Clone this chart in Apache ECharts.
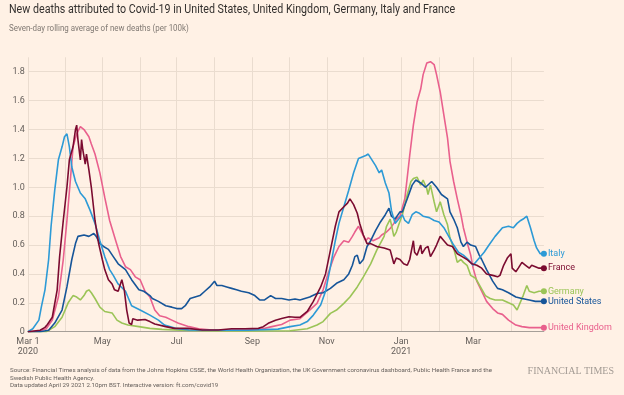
<!DOCTYPE html>
<html>
<head>
<meta charset="utf-8">
<script src="https://cdn.jsdelivr.net/npm/echarts@6/dist/echarts.min.js"></script>
<style>
  html, body { margin: 0; padding: 0; background: #fff1e5; }
  #chart { width: 624px; height: 395px; }
</style>
</head>
<body>
<div id="chart"></div>
<script>
// ---- Data (x = days since 2020-03-01, y = 7-day avg deaths per 100k) ----
const startDay = '2020-03-01';
const dayCount = 424; // 2020-03-01 .. 2021-04-28

const xTickLabels = {
  '2020-03-01': 'Mar 1\n2020', '2020-05-01': 'May', '2020-07-01': 'Jul',
  '2020-09-01': 'Sep', '2020-11-01': 'Nov', '2021-01-01': 'Jan\n2021', '2021-03-01': 'Mar'
};
const yTicks = [0, 0.2, 0.4, 0.6, 0.8, 1.0, 1.2, 1.4, 1.6, 1.8];

const italyDays = [0,4,9,11,14,17,19,22,25,28,30,32,34,36,39,43,47,51,55,59,63,67,70,74,80,85,92,100,107,112,121,132,150,180,205,215,223,229,234,240,244,248,252,255,259,263,267,271,274,277,279,282,285,288,290,293,296,298,301,304,307,309,312,315,318,321,324,329,333,337,341,345,349,353,357,361,365,370,374,378,383,389,394,398,401,404,406,409,412,415,417,420,423];
const italyVals = [0,0.02,0.08,0.17,0.29,0.50,0.73,0.98,1.19,1.28,1.35,1.37,1.28,1.14,1.04,0.96,0.92,0.84,0.75,0.63,0.52,0.43,0.39,0.33,0.28,0.18,0.15,0.115,0.08,0.046,0.023,0.012,0.01,0.01,0.018,0.035,0.046,0.07,0.115,0.185,0.28,0.45,0.63,0.75,0.865,0.98,1.10,1.20,1.21,1.22,1.23,1.19,1.15,1.10,1.12,1.03,0.96,0.84,0.75,0.78,0.81,0.77,0.75,0.81,0.83,0.82,0.80,0.79,0.77,0.76,0.72,0.66,0.60,0.55,0.53,0.50,0.46,0.51,0.55,0.60,0.66,0.72,0.73,0.72,0.75,0.77,0.78,0.80,0.72,0.63,0.58,0.54,0.54];

const franceDays = [0,10,14,16,20,24,26,29,32,34,37,39,40,41,43,44,45,47,48,50,52,55,58,61,63,66,69,71,74,77,79,81,83,85,86,90,96,100,104,113,120,131,143,156,167,178,189,193,197,203,208,214,219,223,229,234,240,244,248,252,255,259,262,264,267,270,272,275,278,281,286,292,297,300,302,305,308,311,313,316,317,319,322,323,326,328,330,333,335,338,341,344,348,352,356,360,364,368,372,376,381,385,387,390,393,396,397,400,402,405,408,411,413,416,419,423];
const franceVals = [0,0.01,0.03,0.05,0.10,0.29,0.52,0.77,1.00,1.19,1.28,1.40,1.43,1.33,1.19,1.33,1.26,1.16,1.23,1.12,1.00,0.77,0.61,0.50,0.43,0.36,0.33,0.29,0.28,0.36,0.29,0.15,0.06,0.05,0.09,0.08,0.085,0.07,0.053,0.035,0.023,0.023,0.012,0.012,0.02,0.02,0.023,0.035,0.058,0.08,0.092,0.104,0.10,0.10,0.14,0.21,0.31,0.40,0.565,0.73,0.83,0.865,0.89,0.92,0.88,0.82,0.75,0.67,0.61,0.61,0.59,0.58,0.565,0.47,0.51,0.50,0.47,0.46,0.50,0.63,0.55,0.53,0.60,0.54,0.58,0.59,0.52,0.565,0.60,0.66,0.63,0.60,0.59,0.54,0.52,0.50,0.47,0.46,0.44,0.40,0.39,0.38,0.39,0.46,0.51,0.54,0.44,0.415,0.44,0.48,0.46,0.44,0.46,0.45,0.44,0.44];

const germanyDays = [0,15,22,28,33,37,40,43,46,48,50,52,55,59,63,69,73,77,82,91,100,110,130,160,190,215,229,237,242,248,253,259,264,270,275,281,286,292,294,297,300,302,304,307,311,314,316,319,322,324,327,328,330,333,335,338,341,344,346,349,352,355,357,360,363,367,371,375,379,383,389,394,398,401,404,406,409,411,415,419,423];
const germanyVals = [0,0,0.035,0.10,0.20,0.25,0.24,0.22,0.25,0.28,0.29,0.27,0.23,0.17,0.14,0.13,0.08,0.06,0.046,0.035,0.023,0.016,0.008,0.005,0.005,0.007,0.02,0.046,0.07,0.127,0.15,0.196,0.24,0.31,0.38,0.47,0.565,0.66,0.73,0.78,0.66,0.69,0.74,0.81,0.95,1.04,1.06,1.07,1.015,1.05,0.99,0.95,1.015,0.90,0.83,0.90,0.81,0.74,0.65,0.58,0.48,0.50,0.48,0.46,0.39,0.37,0.31,0.25,0.23,0.22,0.22,0.20,0.185,0.15,0.21,0.25,0.32,0.28,0.27,0.28,0.28];

const usDays = [0,10,17,22,28,32,36,39,41,46,50,54,56,59,62,66,70,74,80,85,91,95,100,102,107,113,118,122,126,129,133,137,141,145,149,153,155,159,163,167,171,175,181,186,190,194,199,203,208,214,219,223,231,237,242,248,253,259,263,266,268,270,272,275,278,281,285,289,293,296,298,301,305,307,311,315,318,322,326,331,335,339,344,346,349,352,355,357,360,363,367,370,372,376,381,385,389,394,400,405,411,416,423];
const usVals = [0,0,0.01,0.06,0.15,0.31,0.50,0.61,0.66,0.67,0.66,0.68,0.66,0.61,0.59,0.57,0.52,0.47,0.43,0.36,0.29,0.28,0.25,0.23,0.21,0.18,0.17,0.16,0.16,0.18,0.23,0.24,0.25,0.28,0.31,0.35,0.32,0.32,0.31,0.30,0.29,0.28,0.27,0.25,0.22,0.22,0.25,0.23,0.23,0.22,0.226,0.22,0.24,0.265,0.27,0.30,0.335,0.36,0.40,0.46,0.52,0.53,0.47,0.50,0.59,0.63,0.70,0.76,0.81,0.855,0.80,0.78,0.83,0.83,0.92,1.015,1.05,1.03,1.00,1.04,1.00,0.95,0.92,0.83,0.78,0.72,0.62,0.59,0.62,0.60,0.59,0.53,0.50,0.43,0.35,0.30,0.29,0.27,0.24,0.23,0.22,0.21,0.21];

const ukDays = [0,10,15,20,25,29,32,35,37,40,43,46,50,52,55,59,63,67,72,76,80,84,88,92,96,100,104,108,113,118,123,132,140,151,178,190,200,208,215,223,231,237,242,246,251,255,259,263,266,268,271,274,277,279,283,288,290,294,297,300,302,305,309,313,316,319,322,324,327,330,333,335,338,341,344,346,349,352,355,357,360,363,365,368,372,376,381,385,389,394,400,405,411,416,423];
const ukVals = [0,0.005,0.02,0.08,0.24,0.50,0.77,1.07,1.28,1.37,1.42,1.40,1.35,1.30,1.23,1.10,0.93,0.77,0.63,0.52,0.45,0.43,0.38,0.36,0.28,0.24,0.15,0.11,0.10,0.08,0.06,0.035,0.02,0.012,0.012,0.015,0.035,0.05,0.08,0.09,0.15,0.196,0.29,0.40,0.52,0.59,0.63,0.62,0.66,0.69,0.73,0.68,0.63,0.65,0.63,0.65,0.67,0.69,0.715,0.75,0.78,0.80,0.92,1.22,1.43,1.59,1.68,1.78,1.86,1.87,1.85,1.78,1.66,1.50,1.34,1.18,1.04,0.92,0.81,0.72,0.62,0.53,0.44,0.35,0.28,0.21,0.16,0.13,0.12,0.08,0.046,0.035,0.028,0.028,0.028];

// ---- Build axis categories (one per day) ----
const categories = [];
const base = new Date(startDay + 'T00:00:00Z').getTime();
for (let i = 0; i < dayCount; i++) {
  categories.push(new Date(base + i * 86400000).toISOString().slice(0, 10));
}

function pairs(days, vals) {
  return days.map((d, i) => {
    const item = [categories[d], vals[i]];
    if (i === days.length - 1) {
      return { value: item, symbol: 'circle', symbolSize: 6 };
    }
    return item;
  });
}

const FONT = 'Roboto, "Noto Sans", sans-serif';

function lineSeries(name, color, days, vals, z) {
  return {
    name, type: 'line', z,
    data: pairs(days, vals),
    symbol: 'none', showSymbol: true, showAllSymbol: true,
    itemStyle: { color },
    lineStyle: { color, width: 1.6 },
    emphasis: { disabled: true },
    animation: false,
    endLabel: { show: true, formatter: '{a}', color, fontSize: 9, fontFamily: FONT, distance: 4 }
  };
}

const chart = echarts.init(document.getElementById('chart'), null, { renderer: 'canvas' });
chart.setOption({
  backgroundColor: '#fff1e5',
  animation: false,
  textStyle: { fontFamily: FONT },
  grid: { left: 27.9, right: 80.1, top: 57.3, bottom: 63.3, containLabel: false },
  xAxis: {
    type: 'category',
    data: categories,
    boundaryGap: false,
    axisLine: { show: true, lineStyle: { color: '#a69f98', width: 1 } },
    axisTick: { show: false },
    axisLabel: {
      interval: (idx, val) => xTickLabels.hasOwnProperty(val),
      formatter: (val) => xTickLabels[val] || '',
      color: '#66605c', fontSize: 9, lineHeight: 10, margin: 5, fontFamily: FONT
    },
    splitLine: {
      show: true,
      interval: (idx, val) => val.slice(8) === '01',
      lineStyle: { color: '#eadccf', width: 1 }
    }
  },
  yAxis: {
    type: 'value',
    min: 0, max: 1.9, interval: 0.2,
    axisLine: { show: false },
    axisTick: { show: false },
    axisLabel: {
      showMaxLabel: false,
      formatter: (v) => (yTicks.some(t => Math.abs(t - v) < 1e-9) ? (v === 0 ? '0' : v.toFixed(1)) : ''),
      color: '#66605c', fontSize: 9, margin: 3, fontFamily: FONT
    },
    splitLine: { show: true, showMaxLine: false, lineStyle: { color: '#eadccf', width: 1 } }
  },
  series: [
    lineSeries('United Kingdom', '#e9608d', ukDays, ukVals, 2),
    lineSeries('Germany', '#9bc457', germanyDays, germanyVals, 3),
    lineSeries('United States', '#165599', usDays, usVals, 4),
    lineSeries('Italy', '#2d9ad6', italyDays, italyVals, 5),
    lineSeries('France', '#7b0b30', franceDays, franceVals, 6)
  ],
  graphic: [
    { type: 'text', x: 9, y: 4, scaleX: 0.89,
      style: { text: 'New deaths attributed to Covid-19 in United States, United Kingdom, Germany, Italy and France',
        font: '12px ' + FONT, fill: '#33302e' } },
    { type: 'text', x: 9, y: 24.5, scaleX: 0.95,
      style: { text: 'Seven-day rolling average of new deaths (per 100k)',
        font: '8.4px ' + FONT, fill: '#807973' } },
    { type: 'text', x: 10, y: 367,
      style: { text: 'Source: Financial Times analysis of data from the Johns Hopkins CSSE, the World Health Organization, the UK Government coronavirus dashboard, Public Health France and the\nSwedish Public Health Agency.\nData updated April 29 2021 2.10pm BST. Interactive version: ft.com/covid19',
        font: '6.2px ' + FONT, fill: '#66605c', lineHeight: 7.3 } },
    { type: 'text', right: 10, top: 366,
      style: { text: 'FINANCIAL TIMES', font: '10px "Liberation Serif", "DejaVu Serif", serif', fill: '#a39b94' } }
  ]
});
</script>
</body>
</html>
